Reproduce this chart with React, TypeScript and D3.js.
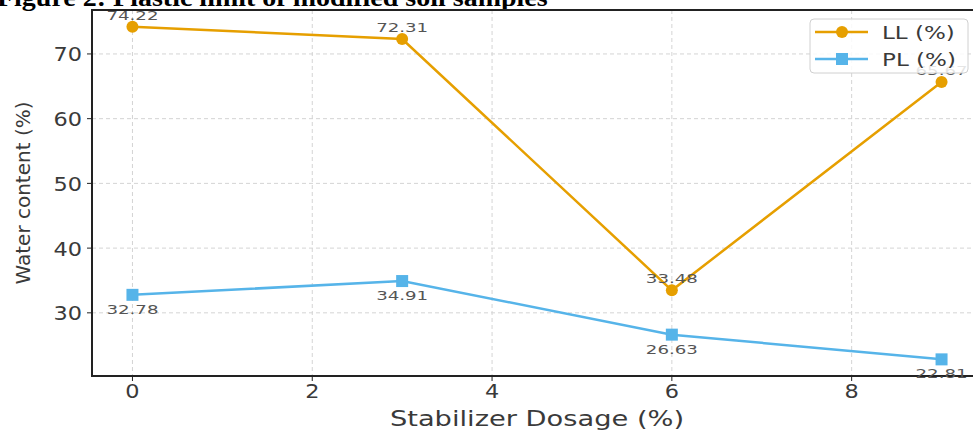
import React, { useEffect, useRef } from "react";
import * as d3 from "d3";

// chart data
const dosage = [0, 3, 6, 9];
const llValues = [74.22, 72.31, 33.48, 65.67];
const plValues = [32.78, 34.91, 26.63, 22.81];
const xTicks = [0, 2, 4, 6, 8];
const yTicks = [30, 40, 50, 60, 70];
const seriesNames = ["LL (%)", "PL (%)"];

const LL_COLOR = "#E69F00";
const PL_COLOR = "#56B4E9";
const FONT = "DejaVu Sans, sans-serif";

const App = () => {
  const svgRef = useRef(null);

  const W = 973;
  const H = 431;
  const margin = { top: 10, left: 92, bottom: 55 };

  useEffect(() => {
    const svg = d3.select(svgRef.current);
    svg.selectAll("*").remove();

    const x = d3.scaleLinear().domain([-0.45, 9.45]).range([margin.left, 982]);
    const y = d3
      .scaleLinear()
      .domain([20.24, 76.79])
      .range([H - margin.bottom, margin.top]);

    const x0 = margin.left;
    const x1 = 982;
    const y0 = H - margin.bottom;
    const y1 = margin.top;

    svg.append("rect").attr("width", W).attr("height", H).attr("fill", "#fff");

    // stretched text helper (source image is horizontally stretched)
    const label = (
      px: number,
      py: number,
      txt: string,
      size: number,
      sx: number,
      anchor: string,
      color: string
    ) =>
      svg
        .append("text")
        .attr("transform", `translate(${px},${py}) scale(${sx},1)`)
        .attr("text-anchor", anchor)
        .attr("font-family", FONT)
        .attr("font-size", size)
        .attr("fill", color)
        .text(txt);

    // title, mostly cut off at the top
    svg
      .append("text")
      .attr("transform", "translate(-3,6) scale(1.12,1)")
      .attr("font-family", "Liberation Serif, Times New Roman, serif")
      .attr("font-weight", "bold")
      .attr("font-size", 25)
      .attr("fill", "#000")
      .text("Figure 2: Plastic limit of modified soil samples");

    // grid
    const grid = svg.append("g").attr("stroke", "#d4d4d4").attr("stroke-width", 1).attr("stroke-dasharray", "4,3");
    xTicks.forEach((t) => {
      grid.append("line").attr("x1", x(t)).attr("x2", x(t)).attr("y1", y1).attr("y2", y0);
    });
    yTicks.forEach((t) => {
      grid.append("line").attr("x1", x0).attr("x2", x1).attr("y1", y(t)).attr("y2", y(t));
    });

    // frame
    svg
      .append("path")
      .attr("d", `M${x1},${y1}H${x0}V${y0}H${x1}`)
      .attr("fill", "none")
      .attr("stroke", "#222")
      .attr("stroke-width", 2);

    // ticks + tick labels
    xTicks.forEach((t) => {
      svg.append("line").attr("x1", x(t)).attr("x2", x(t)).attr("y1", y0).attr("y2", y0 + 5).attr("stroke", "#222");
      label(x(t), y0 + 22, String(t), 20, 1.12, "middle", "#3a3a3a");
    });
    yTicks.forEach((t) => {
      svg.append("line").attr("x1", x0 - 5).attr("x2", x0).attr("y1", y(t)).attr("y2", y(t)).attr("stroke", "#222");
      label(x0 - 10, y(t) + 7.5, String(t), 20, 1.12, "end", "#3a3a3a");
    });

    // axis titles
    label((x0 + x1) / 2, 426, "Stabilizer Dosage (%)", 22, 1.24, "middle", "#3a3a3a");
    svg
      .append("text")
      .attr("transform", `translate(30,${(y0 + y1) / 2}) rotate(-90)`)
      .attr("text-anchor", "middle")
      .attr("font-family", FONT)
      .attr("font-size", 20)
      .attr("fill", "#3a3a3a")
      .text("Water content (%)");

    const line = d3
      .line<number>()
      .x((d, i) => x(dosage[i]))
      .y((d) => y(d));

    // LL series
    svg.append("path").datum(llValues).attr("d", line).attr("fill", "none").attr("stroke", LL_COLOR).attr("stroke-width", 2.5);
    llValues.forEach((v, i) => {
      svg.append("circle").attr("cx", x(dosage[i])).attr("cy", y(v)).attr("r", 6).attr("fill", LL_COLOR);
      label(x(dosage[i]), y(v) - 7, v.toFixed(2), 13, 1.4, "middle", "#555");
    });

    // PL series
    svg.append("path").datum(plValues).attr("d", line).attr("fill", "none").attr("stroke", PL_COLOR).attr("stroke-width", 2.5);
    plValues.forEach((v, i) => {
      svg
        .append("rect")
        .attr("x", x(dosage[i]) - 6)
        .attr("y", y(v) - 6)
        .attr("width", 12)
        .attr("height", 12)
        .attr("fill", PL_COLOR);
      label(x(dosage[i]), y(v) + 19, v.toFixed(2), 13, 1.4, "middle", "#555");
    });

    // legend
    const lg = svg.append("g");
    lg.append("rect")
      .attr("x", 810)
      .attr("y", 19)
      .attr("width", 158)
      .attr("height", 54)
      .attr("rx", 4)
      .attr("fill", "#fff")
      .attr("fill-opacity", 0.85)
      .attr("stroke", "#d0d0d0");
    const colors = [LL_COLOR, PL_COLOR];
    seriesNames.forEach((name, i) => {
      const cy = 32 + i * 27;
      lg.append("line").attr("x1", 815).attr("x2", 868).attr("y1", cy).attr("y2", cy).attr("stroke", colors[i]).attr("stroke-width", 2.5);
      if (i === 0) {
        lg.append("circle").attr("cx", 842).attr("cy", cy).attr("r", 6).attr("fill", colors[i]);
      } else {
        lg.append("rect").attr("x", 836).attr("y", cy - 6).attr("width", 12).attr("height", 12).attr("fill", colors[i]);
      }
      const t = label(882, cy + 6.5, name, 18, 1.28, "start", "#3a3a3a");
      lg.node().appendChild(t.node());
    });
  }, []);

  return (
    <div style={{ position: "absolute", left: 0, top: 0 }}>
      <svg ref={svgRef} width={W} height={H} style={{ display: "block" }} />
    </div>
  );
};

export default App;
